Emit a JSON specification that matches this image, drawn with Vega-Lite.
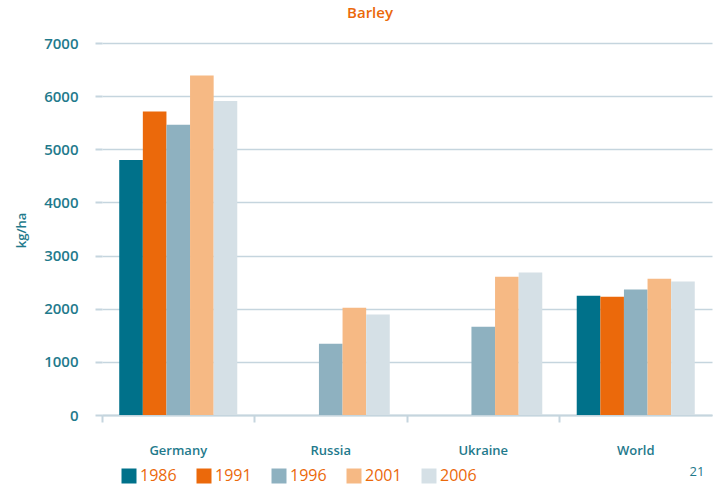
{
  "$schema": "https://vega.github.io/schema/vega-lite/v6.json",
  "autosize": {"type": "none"},
  "padding": {"left": 102, "top": 43, "right": 3, "bottom": 72},
  "width": 610,
  "height": 372,
  "background": "white",
  "title": {
    "text": "Barley",
    "color": "#EB690B",
    "font": "Open Sans",
    "fontSize": 15,
    "fontWeight": 600,
    "anchor": "middle",
    "dx": -37,
    "offset": 15
  },
  "config": {
    "view": {"stroke": null},
    "font": "Open Sans"
  },
  "layer": [
    {
      "data": {
        "values": [
          {"region": "Germany", "year": "1986", "value": 4800},
          {"region": "Germany", "year": "1991", "value": 5710},
          {"region": "Germany", "year": "1996", "value": 5460},
          {"region": "Germany", "year": "2001", "value": 6390},
          {"region": "Germany", "year": "2006", "value": 5910},
          {"region": "Russia", "year": "1996", "value": 1340},
          {"region": "Russia", "year": "2001", "value": 2020},
          {"region": "Russia", "year": "2006", "value": 1890},
          {"region": "Ukraine", "year": "1996", "value": 1660},
          {"region": "Ukraine", "year": "2001", "value": 2600},
          {"region": "Ukraine", "year": "2006", "value": 2680},
          {"region": "World", "year": "1986", "value": 2245},
          {"region": "World", "year": "1991", "value": 2225},
          {"region": "World", "year": "1996", "value": 2360},
          {"region": "World", "year": "2001", "value": 2565},
          {"region": "World", "year": "2006", "value": 2510}
        ]
      },
      "mark": {"type": "bar"},
      "encoding": {
        "x": {
          "field": "region",
          "type": "nominal",
          "sort": ["Germany", "Russia", "Ukraine", "World"],
          "scale": {"paddingInner": 0, "paddingOuter": 0},
          "axis": {
            "title": null,
            "labelAngle": 0,
            "labelColor": "#1F7A8C",
            "labelFont": "Open Sans",
            "labelFontSize": 13,
            "labelFontWeight": 600,
            "labelPadding": 22,
            "domainColor": "#C5D5DE",
            "domainWidth": 2,
            "tickColor": "#C5D5DE",
            "tickWidth": 2,
            "tickSize": 7,
            "bandPosition": 0,
            "grid": false
          }
        },
        "xOffset": {
          "field": "year",
          "type": "nominal",
          "scale": {"paddingInner": 0, "paddingOuter": 0.73}
        },
        "y": {
          "field": "value",
          "type": "quantitative",
          "scale": {"domain": [0, 7000], "nice": false},
          "axis": {
            "title": "kg/ha",
            "titleColor": "#1F7A8C",
            "titleFont": "Open Sans",
            "titleFontSize": 13,
            "titleFontWeight": 600,
            "titleX": -74,
            "titleY": 187,
            "values": [0, 1000, 2000, 3000, 4000, 5000, 6000, 7000],
            "format": "d",
            "labelColor": "#1F7A8C",
            "labelFont": "Open Sans",
            "labelFontSize": 15,
            "labelFontWeight": 600,
            "labelPadding": 17,
            "domain": false,
            "tickColor": "#C5D5DE",
            "tickWidth": 2,
            "tickSize": 7,
            "gridColor": "#C5D5DE",
            "gridWidth": 1.5
          }
        },
        "color": {
          "field": "year",
          "type": "nominal",
          "scale": {
            "domain": ["1986", "1991", "1996", "2001", "2006"],
            "range": ["#00718A", "#EB690B", "#8EB1C0", "#F6B984", "#D5E0E6"]
          },
          "legend": {
            "title": null,
            "orient": "none",
            "direction": "horizontal",
            "legendX": 19,
            "legendY": 425,
            "padding": 0,
            "symbolType": "square",
            "symbolSize": 225,
            "symbolStrokeWidth": 0,
            "symbolOpacity": 1,
            "labelColor": "#EB690B",
            "labelFont": "Open Sans",
            "labelFontSize": 16,
            "labelOffset": 3,
            "columnPadding": 19
          }
        }
      }
    },
    {
      "data": {"values": [{"page": "21"}]},
      "mark": {"type": "text", "color": "#1F7A8C", "font": "Open Sans", "fontSize": 13, "dx": 14, "dy": 57},
      "encoding": {
        "x": {"datum": "World"},
        "xOffset": {"datum": "2006"},
        "y": {"datum": 0},
        "text": {"field": "page"}
      }
    }
  ]
}
